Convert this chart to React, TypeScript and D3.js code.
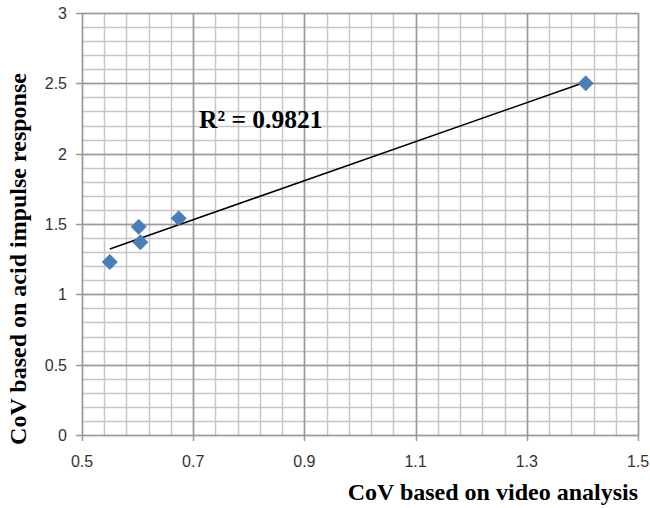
import * as d3 from 'd3';
import React, { useRef, useEffect } from 'react';

// CoV values
const videoCoV = [0.55, 0.602, 0.605, 0.674, 1.406];
const acidCoV = [1.23, 1.48, 1.37, 1.54, 2.5];
const xTicks = [0.5, 0.7, 0.9, 1.1, 1.3, 1.5];
const yTicks = [0, 0.5, 1, 1.5, 2, 2.5, 3];
const rSquaredLabel = 'R² = 0.9821';
const xTitle = 'CoV based on video analysis';
const yTitle = 'CoV based on acid impulse response';

function Chart() {
    const ref = useRef(null);

    useEffect(() => {
        const svg = d3.select(ref.current);
        svg.selectAll('*').remove();

        const left = 82, right = 638, top = 13, bottom = 435;
        const x = d3.scaleLinear().domain([0.5, 1.5]).range([left, right]);
        const y = d3.scaleLinear().domain([0, 3]).range([bottom, top]);

        // minor grid
        const g = svg.append('g');
        const minorX = d3.range(0.5, 1.5001, 0.04);
        const minorY = d3.range(0, 3.0001, 0.1);
        g.selectAll('.vx').data(minorX).enter().append('line')
            .attr('x1', d => Math.round(x(d)) + 0.5).attr('x2', d => Math.round(x(d)) + 0.5)
            .attr('y1', top).attr('y2', bottom)
            .attr('stroke', '#c6c6c6').attr('stroke-width', 1.5);
        g.selectAll('.hy').data(minorY).enter().append('line')
            .attr('y1', d => Math.round(y(d)) + 0.5).attr('y2', d => Math.round(y(d)) + 0.5)
            .attr('x1', left).attr('x2', right)
            .attr('stroke', '#c6c6c6').attr('stroke-width', 1.5);

        // major grid
        g.selectAll('.mx').data(xTicks).enter().append('line')
            .attr('x1', d => Math.round(x(d)) + 0.5).attr('x2', d => Math.round(x(d)) + 0.5)
            .attr('y1', top).attr('y2', bottom + 6)
            .attr('stroke', '#999').attr('stroke-width', 1.5);
        g.selectAll('.my').data(yTicks).enter().append('line')
            .attr('y1', d => Math.round(y(d)) + 0.5).attr('y2', d => Math.round(y(d)) + 0.5)
            .attr('x1', left - 6).attr('x2', right)
            .attr('stroke', '#999').attr('stroke-width', 1.5);

        // tick labels
        svg.append('g').selectAll('text').data(xTicks).enter().append('text')
            .attr('x', d => x(d)).attr('y', 467)
            .attr('text-anchor', 'middle')
            .attr('font-family', 'Liberation Sans, Arial, sans-serif')
            .attr('font-size', 16).attr('fill', '#333')
            .text(d => d3.format('.1f')(d));
        svg.append('g').selectAll('text').data(yTicks).enter().append('text')
            .attr('x', 67).attr('y', d => y(d) + 6)
            .attr('text-anchor', 'end')
            .attr('font-family', 'Liberation Sans, Arial, sans-serif')
            .attr('font-size', 16).attr('fill', '#333')
            .text(d => String(d));

        // linear trendline (least squares)
        const mx = d3.mean(videoCoV), my = d3.mean(acidCoV);
        let sxy = 0, sxx = 0;
        videoCoV.forEach((v, i) => { sxy += (v - mx) * (acidCoV[i] - my); sxx += (v - mx) * (v - mx); });
        const slope = sxy / sxx, icpt = my - slope * mx;
        const [x0, x1] = d3.extent(videoCoV);
        svg.append('line')
            .attr('x1', x(x0)).attr('y1', y(slope * x0 + icpt))
            .attr('x2', x(x1)).attr('y2', y(slope * x1 + icpt))
            .attr('stroke', '#000').attr('stroke-width', 1.5);

        // points
        const diamond = d3.symbol().type(d3.symbolDiamond2).size(150);
        svg.append('g').selectAll('path').data(videoCoV).enter().append('path')
            .attr('d', diamond)
            .attr('transform', (d, i) => 'translate(' + x(d) + ',' + y(acidCoV[i]) + ')')
            .attr('fill', '#4a7ebb').attr('stroke', '#3f6fa8').attr('stroke-width', 0.5);

        svg.append('text')
            .attr('x', 199).attr('y', 128)
            .attr('font-family', 'Liberation Serif, Times New Roman, serif')
            .attr('font-weight', 'bold').attr('font-size', 25.5)
            .text(rSquaredLabel);

        svg.append('text')
            .attr('x', 638).attr('y', 500)
            .attr('text-anchor', 'end')
            .attr('font-family', 'Liberation Serif, Times New Roman, serif')
            .attr('font-weight', 'bold').attr('font-size', 24)
            .text(xTitle);

        svg.append('text')
            .attr('transform', 'translate(26,259) rotate(-90)')
            .attr('text-anchor', 'middle')
            .attr('font-family', 'Liberation Serif, Times New Roman, serif')
            .attr('font-weight', 'bold').attr('font-size', 24)
            .text(yTitle);
    }, []);

    return <svg ref={ref} width={650} height={508} style={{ display: 'block' }} />;
}

export default function App() {
    return (
        <div style={{ position: 'absolute', left: 0, top: 0 }}>
            <Chart />
        </div>
    );
}
